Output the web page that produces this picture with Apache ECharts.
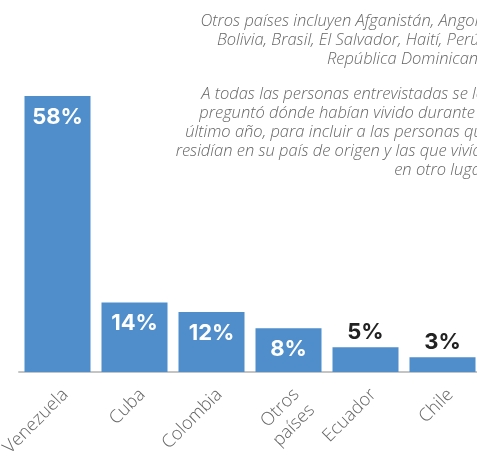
<!DOCTYPE html>
<html>
<head>
<meta charset="utf-8">
<script src="https://cdn.jsdelivr.net/npm/echarts@6/dist/echarts.min.js"></script>
<style>
	html, body { margin: 0; padding: 0; background: #fff; }
	#chart { width: 477px; height: 455px; }
</style>
</head>
<body>
<div id="chart"></div>
<script>
// datos
var paises = ['Venezuela', 'Cuba', 'Colombia', 'Otros\npaíses', 'Ecuador', 'Chile'];
var valores = [58, 14.6, 12.6, 9.2, 5.2, 3.1];
var etiquetas = ['58%', '14%', '12%', '8%', '5%', '3%'];
// las cuatro primeras etiquetas van dentro de la barra
var etiquetaDentro = [true, true, true, true, false, false];

var notaOtros = 'Otros países incluyen Afganistán, Angola,\nBolivia, Brasil, El Salvador, Haití, Perú y\nRepública Dominicana.';
var notaEntrevista = 'A todas las personas entrevistadas se les\npreguntó dónde habían vivido durante el\núltimo año, para incluir a las personas que\nresidían en su país de origen y las que vivían\nen otro lugar.';

var azul = '#4f8ecb';

var datos = valores.map(function(v, i)
{
	var dentro = etiquetaDentro[i];
	return {
		value: v,
		label:
		{
			position: dentro ? 'insideTop' : 'top',
			distance: dentro ? 10 : 4,
			color: dentro ? '#fff' : '#222'
		}
	};
});

var chart = echarts.init(document.getElementById('chart'), null, { renderer: 'canvas' });

var fuenteNota = 'italic 300 16.5px "Open Sans"';

var options =
{
	animation: false,
	grid: { left: 19, top: 96, width: 462, height: 276, outerBoundsMode: 'none', containLabel: false },
	xAxis:
	{
		type: 'category',
		data: paises,
		axisLine: { show: true, lineStyle: { color: '#c4c4c4', width: 2 } },
		axisTick: { show: false },
		axisLabel:
		{
			rotate: 45,
			interval: 0,
			margin: 12,
			align: 'right',
			verticalAlign: 'top',
			color: '#666',
			fontSize: 18,
			fontWeight: 300,
			fontFamily: 'Open Sans',
			lineHeight: 22
		}
	},
	yAxis:
	{
		type: 'value',
		min: 0,
		max: 58,
		show: false,
		splitLine: { show: false }
	},
	series:
	[
		{
			type: 'bar',
			barWidth: 66,
			data: datos,
			itemStyle: { color: azul },
			label:
			{
				show: true,
				fontFamily: 'Inter',
				fontWeight: 'bold',
				fontSize: 22,
				formatter: function(p) { return etiquetas[p.dataIndex]; }
			}
		}
	],
	graphic:
	[
		{
			type: 'text',
			x: 491,
			y: 11.5,
			style:
			{
				text: notaOtros,
				textAlign: 'right',
				textVerticalAlign: 'top',
				font: fuenteNota,
				lineHeight: 19,
				fill: '#666'
			}
		},
		{
			type: 'text',
			x: 491,
			y: 84.5,
			style:
			{
				text: notaEntrevista,
				textAlign: 'right',
				textVerticalAlign: 'top',
				font: fuenteNota,
				lineHeight: 19,
				fill: '#666'
			}
		}
	]
};

chart.setOption(options);
</script>
</body>
</html>
